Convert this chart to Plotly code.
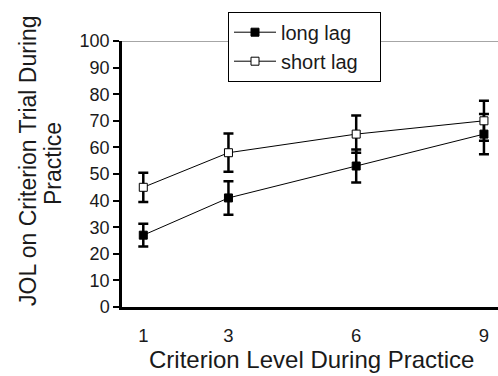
import plotly.graph_objects as go

levels = [1, 3, 6, 9]
long_lag = [27, 41, 53, 65]
long_err = [4.3, 6.3, 6.2, 7.6]
short_lag = [45, 58, 65, 70]
short_err = [5.5, 7.2, 7.0, 7.5]
y_ticks = [0, 10, 20, 30, 40, 50, 60, 70, 80, 90, 100]
series_names = ["long lag", "short lag"]

font = "Liberation Sans, Arial, sans-serif"
txt = "#1a1a1a"

# plot-area geometry in pixels (used to place the axis titles)
L, T, B, H, W = 122, 41, 69, 376, 498
ph = H - T - B
pw = W - L

pad = "\u00a0" * 3

fig = go.Figure()
fig.add_trace(go.Scatter(
    x=levels, y=long_lag, name=series_names[0] + pad, mode="lines+markers",
    line=dict(color="black", width=1),
    marker=dict(symbol="square", size=8, color="black", line=dict(color="black", width=1)),
    error_y=dict(type="data", array=long_err, color="black", thickness=2.5, width=5),
))
fig.add_trace(go.Scatter(
    x=levels, y=short_lag, name=series_names[1] + pad, mode="lines+markers",
    line=dict(color="black", width=1),
    marker=dict(symbol="square", size=8, color="white", line=dict(color="black", width=1)),
    error_y=dict(type="data", array=short_err, color="black", thickness=2.5, width=5),
))

fig.add_shape(type="line", xref="paper", yref="y", x0=0, x1=1, y0=100, y1=100,
              line=dict(color="#888888", width=1.5), layer="below")

def px_x(p):
    return (p - L) / pw

def px_y(p):
    return (H - B - p) / ph

fig.add_annotation(text="JOL on Criterion Trial During", xref="paper", yref="paper",
                   x=px_x(28), y=px_y(161), xanchor="center", yanchor="middle",
                   textangle=-90, showarrow=False, font=dict(size=23, color=txt))
fig.add_annotation(text="Practice", xref="paper", yref="paper",
                   x=px_x(53), y=px_y(164), xanchor="center", yanchor="middle",
                   textangle=-90, showarrow=False, font=dict(size=23, color=txt))
fig.add_annotation(text="Criterion Level During Practice", xref="paper", yref="paper",
                   x=px_x(311), y=px_y(375), xanchor="center", yanchor="bottom",
                   showarrow=False, font=dict(size=24, color=txt))

fig.update_layout(
    width=W, height=H,
    margin=dict(l=L, r=0, t=T, b=B),
    paper_bgcolor="white", plot_bgcolor="white",
    font=dict(family=font, size=18, color=txt),
    showlegend=True,
    legend=dict(x=px_x(228), y=px_y(11.7), xanchor="left", yanchor="top",
                bgcolor="white", bordercolor="black", borderwidth=1,
                font=dict(size=20, color=txt), tracegroupgap=0, itemwidth=42),
    xaxis=dict(range=[0.5, 9.33], tickvals=levels, ticktext=[str(v) for v in levels],
               showline=True, linecolor="black", linewidth=2.5, ticks="",
               ticklabelstandoff=10, tickfont=dict(size=18.5),
               showgrid=False, zeroline=False),
    yaxis=dict(range=[0, 100], tickvals=y_ticks, showline=True, linecolor="black",
               linewidth=2.5, ticks="outside", ticklen=6, tickwidth=2, tickcolor="black",
               tickfont=dict(size=18),
               showgrid=False, zeroline=False),
)

fig.write_html("out.html")
